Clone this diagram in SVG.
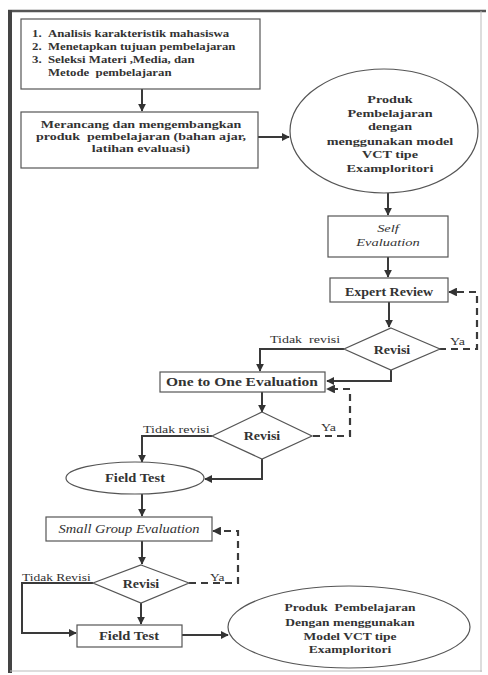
<svg xmlns="http://www.w3.org/2000/svg" width="488" height="675" viewBox="0 0 488 675">
<style>
.box{fill:#fff;stroke:#555;stroke-width:1.2}
.t{font-family:"Liberation Serif","Times New Roman",serif;fill:#333}
.b{font-weight:bold}
.i{font-style:italic}
.c{text-anchor:middle}
.ln{fill:none;stroke:#3a3a3a;stroke-width:2}
.dash{fill:none;stroke:#3a3a3a;stroke-width:2.2;stroke-dasharray:7,5}
</style>
<defs>
<marker id="ah" viewBox="0 0 10 10" refX="9" refY="5" markerWidth="4" markerHeight="4" orient="auto" markerUnits="strokeWidth">
<path d="M0,0 L10,5 L0,10 z" fill="#333"/>
</marker>
</defs>
<rect x="0" y="0" width="488" height="675" fill="#fff"/>
<g id="frame">
<line x1="8" y1="11" x2="486" y2="11" stroke="#555" stroke-width="2.5"/>
<line x1="10" y1="10" x2="10" y2="673" stroke="#444" stroke-width="4"/>
<line x1="481" y1="11" x2="481" y2="672" stroke="#bbb" stroke-width="1"/>
<line x1="10" y1="671" x2="482" y2="671" stroke="#bbb" stroke-width="1.2"/>
</g>
<g id="connectors">
<path class="ln" d="M142,89 L142,111" marker-end="url(#ah)"/>
<path class="ln" d="M258,137 L289,137" marker-end="url(#ah)"/>
<path class="ln" d="M388,193 L388,215" marker-end="url(#ah)"/>
<path class="ln" d="M388,257 L388,277" marker-end="url(#ah)"/>
<path class="ln" d="M389,302 L389,327" marker-end="url(#ah)"/>
<path class="dash" d="M439,349 L477,349 L477,292 L449,292" marker-end="url(#ah)"/>
<path class="ln" d="M344,349 L260,349 L260,371" marker-end="url(#ah)"/>
<path class="ln" d="M391,370 L391,381 L327,381" marker-end="url(#ah)"/>
<path class="ln" d="M262,392 L262,412" marker-end="url(#ah)"/>
<path class="dash" d="M313,436 L350,436 L350,389 L327,389" marker-end="url(#ah)"/>
<path class="ln" d="M212,436 L142,436 L142,462" marker-end="url(#ah)"/>
<path class="ln" d="M262,459 L262,479 L205,479" marker-end="url(#ah)"/>
<path class="ln" d="M142,494 L142,516" marker-end="url(#ah)"/>
<path class="ln" d="M142,541 L142,564" marker-end="url(#ah)"/>
<path class="dash" d="M189,583 L238,583 L238,531 L213,531" marker-end="url(#ah)"/>
<path class="ln" d="M93,583 L22,583 L22,633 L76,633" marker-end="url(#ah)"/>
<path class="ln" d="M141,603 L141,624" marker-end="url(#ah)"/>
<path class="ln" d="M182,635 L228,635" marker-end="url(#ah)"/>
</g>
<g id="n1">
<rect class="box" x="21" y="19" width="239" height="70"/>
<g transform="scale(1,0.75)">
<text class="t b" font-size="12.8" x="32" y="49.33">1.</text>
<text class="t b" font-size="12.8" x="48" y="49.33">Analisis karakteristik mahasiswa</text>
<text class="t b" font-size="12.8" x="32" y="66.67">2.</text>
<text class="t b" font-size="12.8" x="48" y="66.67">Menetapkan tujuan pembelajaran</text>
<text class="t b" font-size="12.8" x="32" y="84">3.</text>
<text class="t b" font-size="12.8" x="48" y="84">Seleksi Materi ,Media, dan</text>
<text class="t b" font-size="12.8" x="48" y="101.33" xml:space="preserve">Metode  pembelajaran</text>
</g>
</g>
<g id="n2">
<rect class="box" x="21" y="112" width="237" height="56"/>
<g transform="scale(1,0.75)">
<text class="t b c" font-size="14" x="141" y="171.33">Merancang dan mengembangkan</text>
<text class="t b c" font-size="14" x="141" y="187.33" xml:space="preserve">produk  pembelajaran (bahan ajar,</text>
<text class="t b c" font-size="14" x="141" y="202.67">latihan evaluasi)</text>
</g>
</g>
<g id="n3">
<ellipse class="box" cx="384" cy="131" rx="94" ry="62"/>
<g transform="scale(1,0.75)">
<text class="t b c" font-size="14.2" x="390" y="138">Produk</text>
<text class="t b c" font-size="14.2" x="390" y="156.67">Pembelajaran</text>
<text class="t b c" font-size="14.2" x="390" y="174">dengan</text>
<text class="t b c" font-size="14.2" x="390" y="194">menggunakan model</text>
<text class="t b c" font-size="14.2" x="390" y="211.33">VCT tipe</text>
<text class="t b c" font-size="14.2" x="390" y="230">Examploritori</text>
</g>
</g>
<g id="n4">
<rect class="box" x="328" y="216" width="120" height="41"/>
<g transform="scale(1,0.75)">
<text class="t i c" font-size="14.5" x="388" y="310">Self</text>
<text class="t i c" font-size="14.5" x="388" y="328.67">Evaluation</text>
</g>
</g>
<g id="n5">
<rect class="box" x="330" y="278" width="118" height="24"/>
<text class="t b c" font-size="14" x="389" y="348.2" transform="scale(1,0.85)">Expert Review</text>
</g>
<g id="n6">
<polygon class="box" points="391,328 440,349 391,370 344,349"/>
<text class="t b c" font-size="14" x="392" y="415.9" transform="scale(1,0.85)">Revisi</text>
<g transform="scale(1,0.75)">
<text class="t" font-size="14" x="270" y="458" xml:space="preserve">Tidak  revisi</text>
<text class="t" font-size="14" x="450" y="460.67">Ya</text>
</g>
</g>
<g id="n7">
<rect class="box" x="160" y="372" width="165" height="20"/>
<text class="t b c" font-size="15.5" x="242" y="454.7" transform="scale(1,0.85)">One to One Evaluation</text>
</g>
<g id="n8">
<polygon class="box" points="262,412 312,436 262,459 212,436"/>
<text class="t b c" font-size="14" x="262" y="517.1" transform="scale(1,0.85)">Revisi</text>
<g transform="scale(1,0.75)">
<text class="t" font-size="14" x="143" y="578">Tidak revisi</text>
<text class="t" font-size="14" x="321" y="575.33">Ya</text>
</g>
</g>
<g id="n9">
<ellipse class="box" cx="135" cy="478" rx="69" ry="16"/>
<text class="t b c" font-size="14.5" x="135" y="566.5" transform="scale(1,0.85)">Field Test</text>
</g>
<g id="n10">
<rect class="box" x="46" y="517" width="166" height="24"/>
<text class="t i c" font-size="14.5" x="129" y="626.5" transform="scale(1,0.85)">Small Group Evaluation</text>
</g>
<g id="n11">
<polygon class="box" points="141,565 189,583 141,603 93,583"/>
<text class="t b c" font-size="14" x="141" y="691.2" transform="scale(1,0.85)">Revisi</text>
<g transform="scale(1,0.75)">
<text class="t" font-size="13.5" x="22" y="775.33">Tidak Revisi</text>
<text class="t" font-size="13.5" x="210" y="775.33">Ya</text>
</g>
</g>
<g id="n12">
<rect class="box" x="77" y="625" width="105" height="22"/>
<text class="t b c" font-size="14.5" x="129" y="752.9" transform="scale(1,0.85)">Field Test</text>
</g>
<g id="n13">
<ellipse class="box" cx="349" cy="627" rx="121" ry="41"/>
<g transform="scale(1,0.75)">
<text class="t b c" font-size="13.5" x="350" y="815.33" xml:space="preserve">Produk  Pembelajaran</text>
<text class="t b c" font-size="13.5" x="350" y="835.33">Dengan menggunakan</text>
<text class="t b c" font-size="13.5" x="350" y="854">Model VCT tipe</text>
<text class="t b c" font-size="13.5" x="350" y="871.33">Examploritori</text>
</g>
</g>
</svg>
